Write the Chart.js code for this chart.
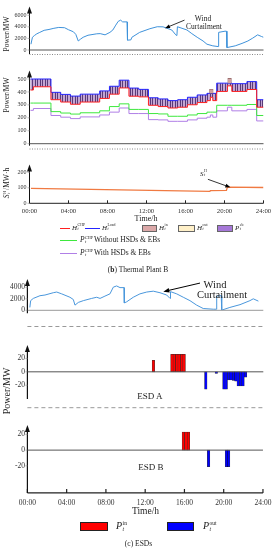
<!DOCTYPE html>
<html>
<head>
<meta charset="utf-8">
<title>Thermal Plant B and ESDs</title>
<script src="https://cdn.jsdelivr.net/npm/chart.js@4.4.1/dist/chart.umd.min.js"></script>
<style>
  body { margin: 0; width: 277px; height: 550px; position: relative; overflow: hidden; background: #fff;
         font-family: "Liberation Serif", "DejaVu Serif", serif; color: #222; }
  canvas { position: absolute; left: 0; }
  .t { position: absolute; white-space: nowrap; line-height: 1; transform: translate(-50%, -50%); }
  .l { position: absolute; white-space: nowrap; line-height: 1; transform: translateY(-50%); }
  .r { position: absolute; white-space: nowrap; line-height: 1; transform: translate(-50%, -50%) rotate(-90deg); }
  .ss { display: inline-block; vertical-align: middle; font-size: 0.55em; line-height: 0.95; margin: 0 1px 0 0.5px; text-align: left; }
  .ss > * { display: block; }
  .ln { position: absolute; height: 0; border-top: 1px solid; }
  .bx { position: absolute; box-sizing: border-box; border: 1px solid #666; }
</style>
</head>
<body>
<canvas id="b1" width="277" height="70" style="top:0px"></canvas>
<canvas id="b2" width="277" height="100" style="top:64px"></canvas>
<canvas id="b3" width="277" height="66" style="top:158px"></canvas>
<canvas id="c1" width="277" height="70" style="top:272px"></canvas>
<canvas id="c2" width="277" height="86" style="top:338px"></canvas>
<canvas id="c3" width="277" height="92" style="top:418px"></canvas>

<!-- (b) texts -->
<div class="r" style="left:7px;top:34px;font-size:7.5px">Power/MW</div>
<div class="r" style="left:7px;top:95px;font-size:7.5px">Power/MW</div>
<div class="r" style="left:7px;top:183px;font-size:7.5px"><i>S</i><span class="ss"><span>H</span><i>t</i></span>/MW·h</div>
<div class="t" style="left:203px;top:19px;font-size:7.5px">Wind</div>
<div class="t" style="left:204px;top:27px;font-size:7.5px">Curtailment</div>
<div class="t" style="left:204px;top:174px;font-size:7px"><i>S</i><span class="ss"><span>H</span><i>t</i></span></div>
<div class="t" style="left:146px;top:218.5px;font-size:8px">Time/h</div>

<div class="ln" style="left:60px;top:228px;width:10px;border-color:#ff2020"></div>
<div class="l" style="left:72px;top:228px;font-size:7px"><i>H</i><span class="ss"><span>CHP</span><i>t</i></span></div>
<div class="ln" style="left:85px;top:228px;width:15px;border-color:#2525ff"></div>
<div class="l" style="left:102px;top:228px;font-size:7px"><i>H</i><span class="ss"><span>Load</span><i>t</i></span></div>
<div class="bx" style="left:142px;top:224.5px;width:15px;height:7px;background:#dba8a8"></div>
<div class="l" style="left:159px;top:228px;font-size:7px"><i>H</i><span class="ss"><span>in</span><i>t</i></span></div>
<div class="bx" style="left:178px;top:224.5px;width:17px;height:7px;background:#fff0c8"></div>
<div class="l" style="left:197px;top:228px;font-size:7px"><i>H</i><span class="ss"><span>out</span><i>t</i></span></div>
<div class="bx" style="left:217px;top:224.5px;width:16px;height:7px;background:#a678d8"></div>
<div class="l" style="left:235px;top:228px;font-size:7px"><i>P</i><span class="ss"><span>eb</span><i>t</i></span></div>
<div class="ln" style="left:60px;top:240px;width:17px;border-color:#3ee83e"></div>
<div class="l" style="left:80px;top:240px;font-size:7.5px"><i>P</i><span class="ss"><span>CHP</span><i>t</i></span>Without HSDs &amp; EBs</div>
<div class="ln" style="left:60px;top:253px;width:17px;border-color:#b07fe6"></div>
<div class="l" style="left:80px;top:253px;font-size:7.5px"><i>P</i><span class="ss"><span>CHP</span><i>t</i></span>With HSDs &amp; EBs</div>
<div class="t" style="left:138px;top:270px;font-size:7.5px">(<b>b</b>) Thermal Plant B</div>

<!-- (c) texts -->
<div class="t" style="left:215px;top:285px;font-size:10.5px">Wind</div>
<div class="t" style="left:222px;top:294.5px;font-size:10.5px">Curtailment</div>
<div class="r" style="left:7px;top:391px;font-size:10px">Power/MW</div>
<div class="t" style="left:150px;top:396px;font-size:9px">ESD A</div>
<div class="t" style="left:151px;top:467px;font-size:9px">ESD B</div>
<div class="t" style="left:145.5px;top:511.5px;font-size:9.5px">Time/h</div>
<div class="bx" style="left:80px;top:521.5px;width:28px;height:9.5px;background:#ff0000;border-color:#222"></div>
<div class="l" style="left:116px;top:526px;font-size:10px"><i>P</i><span class="ss"><span>in</span><i>t</i></span></div>
<div class="bx" style="left:167px;top:521.5px;width:27px;height:9.5px;background:#0000ff;border-color:#222"></div>
<div class="l" style="left:203px;top:526px;font-size:10px"><i>P</i><span class="ss"><span>out</span><i>t</i></span></div>
<div class="t" style="left:138.5px;top:544px;font-size:7.5px">(c) ESDs</div>

<script>
// time axis
const hours = [0, 4, 8, 12, 16, 20, 24];
const hourLabels = ['00:00', '04:00', '08:00', '12:00', '16:00', '20:00', '24:00'];

// tick values
const windBTicks = [0, 2000, 4000, 6000];
const plantTicks = [0, 100, 200, 300, 400, 500];
const storTicks = [0, 100, 200];
const windCTicks = [0, 2000, 4000];
const esdTicks = [-20, 0, 20];

// (b) wind power, MW
const windBT = [0.15, 0.3, 0.5, 0.75, 1.0, 1.5, 2.0, 2.5, 3.0, 3.6, 4.0, 4.5, 4.75, 5.0, 5.25, 5.5, 6.0, 6.9, 7.25, 7.75,
  8.25, 8.55, 8.85, 9.1, 9.35, 9.55, 10.0, 10.05, 10.4, 10.5, 11.3, 12.35, 13.1, 13.7, 14.6, 15.0, 15.12, 15.17, 16.15, 16.65,
  17.2, 17.8, 18.2, 18.8, 19.35, 19.4, 20.05, 20.2, 20.25, 21.1, 21.8, 22.4, 22.9, 23.4, 23.8, 24];
const windBV = [1000, 2200, 2500, 2800, 3000, 3400, 3550, 3750, 3900, 3850, 3500, 3150, 2700, 1560, 1900, 2200, 2550, 2800, 2830, 2620,
  3050, 3460, 4300, 4950, 5160, 4860, 4860, 1700, 1750, 2200, 3050, 3680, 4020, 4000, 3450, 2620, 2500, 4020, 3460, 2830,
  2200, 1560, 1000, 720, 590, 3050, 3250, 3250, 420, 720, 1140, 1560, 2060, 2620, 2330, 2200];

// (b) thermal plant B, step start times (h) and values (MW)
const stepT  = [0.1, 0.4, 2.2, 3.2, 4.2, 5.2, 7.2, 8.2, 9.2, 10.2, 11.2, 12.2, 13.2, 14.2, 15.2, 16.2, 17.2, 18.2, 18.55, 18.8, 19.2, 20.3, 20.75, 22.3, 23.3, 24];
const hLoad  = [500, 500, 397, 381, 368, 383, 408, 444, 491, 430, 420, 355, 346, 333, 340, 359, 377, 389, 389, 389, 468, 468, 464, 480, 340, 340];
const hChp   = [415, 440, 340, 322, 305, 322, 350, 383, 431, 367, 362, 297, 287, 276, 282, 301, 318, 333, 359, 333, 404, 447, 404, 419, 282, 282];
const pNoHsd = [314, 314, 248, 237, 229, 239, 254, 287, 308, 265, 265, 233, 230, 212, 212, 222, 233, 244, 244, 244, 297, 297, 297, 303, 218, 218];
const pHsd   = [258, 272, 218, 205, 194, 207, 222, 244, 276, 233, 233, 186, 184, 173, 173, 184, 197, 205, 222, 205, 254, 282, 254, 265, 176, 176];
const hInT = [18.65, 20.52];
const hInLow = [389, 468];
const hInHigh = [421, 505];

// (b) heat storage S_t^H, MWh
const storT = [0.15, 18.5, 18.55, 20.2, 20.3, 24];
const storV = [97, 77, 82, 84, 105, 102];

// (c) wind power, MW
const windCT = [0.25, 0.33, 0.6, 1.28, 1.79, 2.63, 2.98, 3.49, 4.33, 4.67, 4.84, 5.18, 5.69, 6.54, 7.05, 7.39, 7.89, 8.4, 8.74, 9.08,
  9.42, 9.83, 9.86, 10.1, 10.77, 11.45, 12.14, 12.81, 13.49, 14.17, 14.51, 14.56, 15.19, 15.86, 16.54, 17.22, 17.89, 18.91, 19.2, 19.26,
  19.59, 19.72, 19.77, 20.6, 21.63, 22.64, 22.98, 23.5];
const windCV = [500, 1680, 2070, 2540, 2660, 3060, 3180, 2860, 2270, 1880, 900, 1370, 1680, 2070, 2270, 2070, 2470, 2860, 4030, 4240,
  3950, 3950, 1290, 1480, 2270, 2860, 3180, 3330, 3060, 2660, 2070, 3250, 2860, 2270, 1680, 900, 310, 190, 190, 2470,
  2540, 2540, 30, 500, 980, 1680, 2000, 1600];

// (c) ESD charge / discharge, MW (15 min bars)
const esdAInT = [12.82, 14.7, 14.95, 15.2, 15.45, 15.7, 15.95];
const esdAInV = [17, 26, 26, 26, 26, 26, 26];
const esdAOutT = [18.15, 19.22, 19.99, 20.23, 20.48, 20.72, 20.97, 21.21, 21.45, 21.7, 21.94, 22.19];
const esdAOutV = [-26, -2.5, -26, -26, -12, -12, -13, -14, -21, -21, -21, -8];
const esdBInT = [15.89, 16.15, 16.41];
const esdBInV = [23, 23, 23];
const esdBOutT = [18.46, 20.28, 20.5];
const esdBOutV = [-21, -21, -21];

Chart.defaults.font.family = '"Liberation Serif", "DejaVu Serif", serif';
Chart.defaults.color = '#333';

// axes, arrows and separators drawn on top of each panel
const decoPlugin = {
  id: 'deco',
  afterDatasetsDraw(chart, args, o) {
    const ctx = chart.ctx, a = chart.chartArea, xs = chart.scales.x, ys = chart.scales.y;
    ctx.save();
    if (o.zero) {
      const y0 = ys.getPixelForValue(0);
      ctx.strokeStyle = o.zero; ctx.lineWidth = 1;
      ctx.beginPath(); ctx.moveTo(a.left, y0); ctx.lineTo(a.right, y0); ctx.stroke();
    }
    if (o.sep) {
      const yy = a.bottom + o.sep.gap;
      ctx.setLineDash(o.sep.dash); ctx.strokeStyle = o.sep.color; ctx.lineWidth = 1;
      ctx.beginPath(); ctx.moveTo(a.left, yy); ctx.lineTo(a.right, yy); ctx.stroke();
      ctx.setLineDash([]);
    }
    if (o.base) {
      ctx.strokeStyle = '#222'; ctx.lineWidth = o.base.width;
      ctx.beginPath(); ctx.moveTo(a.left, a.bottom); ctx.lineTo(a.right, a.bottom);
      hours.forEach(h => {
        const px = xs.getPixelForValue(h);
        ctx.moveTo(px, a.bottom); ctx.lineTo(px, a.bottom - o.base.tick);
      });
      ctx.stroke();
    }
    // vertical axis with arrow head
    ctx.strokeStyle = '#111'; ctx.fillStyle = '#111'; ctx.lineWidth = o.axisWidth;
    ctx.beginPath(); ctx.moveTo(a.left, a.top + 5); ctx.lineTo(a.left, a.bottom + o.axisExt); ctx.stroke();
    ctx.beginPath(); ctx.moveTo(a.left, a.top); ctx.lineTo(a.left - 2.5, a.top + 7); ctx.lineTo(a.left + 2.5, a.top + 7);
    ctx.closePath(); ctx.fill();
    ctx.strokeStyle = '#999'; ctx.lineWidth = 0.7;
    ys.ticks.forEach(t => {
      const py = ys.getPixelForValue(t.value);
      ctx.beginPath(); ctx.moveTo(a.left - 2, py); ctx.lineTo(a.left, py); ctx.stroke();
    });
    (o.arrows || []).forEach(ar => {
      const x1 = xs.getPixelForValue(ar.from[0]), y1 = ys.getPixelForValue(ar.from[1]);
      const x2 = xs.getPixelForValue(ar.to[0]), y2 = ys.getPixelForValue(ar.to[1]);
      const ang = Math.atan2(y2 - y1, x2 - x1), len = ar.head, w = ar.head * 0.4;
      ctx.strokeStyle = '#000'; ctx.fillStyle = '#000'; ctx.lineWidth = ar.width;
      ctx.beginPath(); ctx.moveTo(x1, y1); ctx.lineTo(x2 - len * 0.8 * Math.cos(ang), y2 - len * 0.8 * Math.sin(ang)); ctx.stroke();
      ctx.beginPath(); ctx.moveTo(x2, y2);
      ctx.lineTo(x2 - len * Math.cos(ang) + w * Math.sin(ang), y2 - len * Math.sin(ang) - w * Math.cos(ang));
      ctx.lineTo(x2 - len * Math.cos(ang) - w * Math.sin(ang), y2 - len * Math.sin(ang) + w * Math.cos(ang));
      ctx.closePath(); ctx.fill();
    });
    ctx.restore();
  }
};

function pts(t, v) { return t.map((x, i) => ({ x, y: v[i] })); }

function lineSet(t, v, color, width, extra) {
  return Object.assign({ type: 'line', data: pts(t, v), borderColor: color, borderWidth: width,
    pointRadius: 0, fill: false, tension: 0 }, extra || {});
}

function barSet(t, v, color, thick) {
  return { type: 'bar', data: pts(t, v), backgroundColor: color, borderColor: 'rgba(0,0,0,0.8)',
    borderWidth: 0.5, borderSkipped: false, barThickness: thick, grouped: false };
}

function yScale(min, max, ticks, width, size, pad) {
  return {
    min, max,
    grid: { display: false, drawTicks: false },
    border: { display: false },
    ticks: { font: { size }, padding: pad, color: '#333', callback: v => String(v) },
    afterBuildTicks: s => { s.ticks = ticks.map(v => ({ value: v })); },
    afterFit: s => { s.width = width; }
  };
}

function xScale(show, size, pad) {
  return {
    type: 'linear', min: 0, max: 24, display: show, offset: false,
    grid: { display: false, drawTicks: false },
    border: { display: false },
    ticks: { font: { size }, padding: pad, color: '#333', maxRotation: 0, autoSkip: false,
      callback: v => hourLabels[hours.indexOf(v)] },
    afterBuildTicks: s => { s.ticks = hours.map(v => ({ value: v })); },
    afterFit: s => { s.height = 14; }
  };
}

function build(id, datasets, y, x, padding, deco) {
  return new Chart(document.getElementById(id), {
    type: 'line',
    data: { datasets },
    options: {
      responsive: false, animation: false, events: [],
      layout: { padding },
      scales: { x, y },
      plugins: { legend: { display: false }, tooltip: { enabled: false }, deco }
    },
    plugins: [decoPlugin]
  });
}

// hatch for the electric boiler bars between H_CHP and H_Load
function hatch(id) {
  const c = document.createElement('canvas');
  c.width = 5; c.height = 4;
  const g = c.getContext('2d');
  g.fillStyle = '#c3a6d3'; g.fillRect(0, 0, 5, 4);
  g.fillStyle = '#5a3b78'; g.fillRect(0, 0, 1, 4); g.fillRect(2, 0, 1, 4);
  return document.getElementById(id).getContext('2d').createPattern(c, 'repeat');
}

const padB = { left: 0, right: 13.5 };
const padC = { left: 0, right: 13.7 };

build('b1', [lineSet(windBT, windBV, '#3f92da', 1)],
  yScale(0, 7500, windBTicks, 29.5, 6, 3), xScale(false, 6.8, 4),
  Object.assign({ top: 5, bottom: 6 }, padB),
  { zero: '#555', sep: { gap: 4.5, dash: [1, 1.5], color: '#888' }, axisWidth: 1, axisExt: 4,
    arrows: [{ from: [15.9, 5165], to: [13.9, 3770], head: 5, width: 0.8 }] });

build('b2', [
    lineSet(stepT, hChp, '#ff2020', 1, { stepped: true }),
    lineSet(stepT, hLoad, '#2525ff', 1, { stepped: true, fill: { target: 0 }, backgroundColor: hatch('b2') }),
    lineSet(stepT, pNoHsd, '#3ee83e', 1, { stepped: true }),
    lineSet(stepT, pHsd, '#b07fe6', 1, { stepped: true }),
    { type: 'bar', data: hInT.map((x, i) => ({ x, y: [hInLow[i], hInHigh[i]] })), backgroundColor: '#d2a2a2',
      borderColor: '#8a5c5c', borderWidth: 0.6, borderSkipped: false, barThickness: 3.6, grouped: false, order: -1 }
  ],
  yScale(0, 565, plantTicks, 29.5, 6, 3), xScale(false, 6.8, 4),
  Object.assign({ top: 6, bottom: 6.3 }, padB),
  { zero: '#555', sep: { gap: 5.3, dash: [1, 1.5], color: '#888' }, axisWidth: 1, axisExt: 2 });

build('b3', [lineSet(storT, storV, '#f07a42', 1.3)],
  yScale(0, 250, storTicks, 29.5, 6, 3), xScale(true, 6.8, 4),
  Object.assign({ top: 4.5, bottom: 6.7 }, padB),
  { base: { width: 1, tick: 3 }, axisWidth: 1, axisExt: 0,
    arrows: [{ from: [18.3, 155], to: [20.6, 103], head: 5, width: 0.8 }] });

build('c1', [lineSet(windCT, windCV, '#4a97dc', 1)],
  yScale(0, 5450, windCTicks, 27.4, 7.5, 2.5), xScale(false, 7.5, 5),
  Object.assign({ top: 6, bottom: 17.7 }, padC),
  { zero: '#999', sep: { gap: 16.2, dash: [4, 3], color: '#999' }, axisWidth: 1.2, axisExt: 3,
    arrows: [{ from: [17.56, 4740], to: [13.83, 3250], head: 6, width: 1 }] });

build('c2', [barSet(esdAInT, esdAInV, '#ff0000', 2.46), barSet(esdAOutT, esdAOutV, '#0000ff', 2.46)],
  yScale(-48, 40, esdTicks, 27.4, 7.5, 2.5), xScale(false, 7.5, 5),
  Object.assign({ top: 5, bottom: 6 }, padC),
  { zero: '#555', sep: { gap: 3.7, dash: [4, 3], color: '#999' }, axisWidth: 1.2, axisExt: -5 });

build('c3', [barSet(esdBInT, esdBInV, '#ff0000', 2.46), barSet(esdBOutT, esdBOutV, '#0000ff', 2.46)],
  yScale(-54.5, 32, esdTicks, 27.4, 7.5, 2.5), xScale(true, 7.5, 5.5),
  Object.assign({ top: 5.7, bottom: 3.1 }, padC),
  { zero: '#555', base: { width: 1.2, tick: 4 }, axisWidth: 1.2, axisExt: 0 });
</script>
</body>
</html>
